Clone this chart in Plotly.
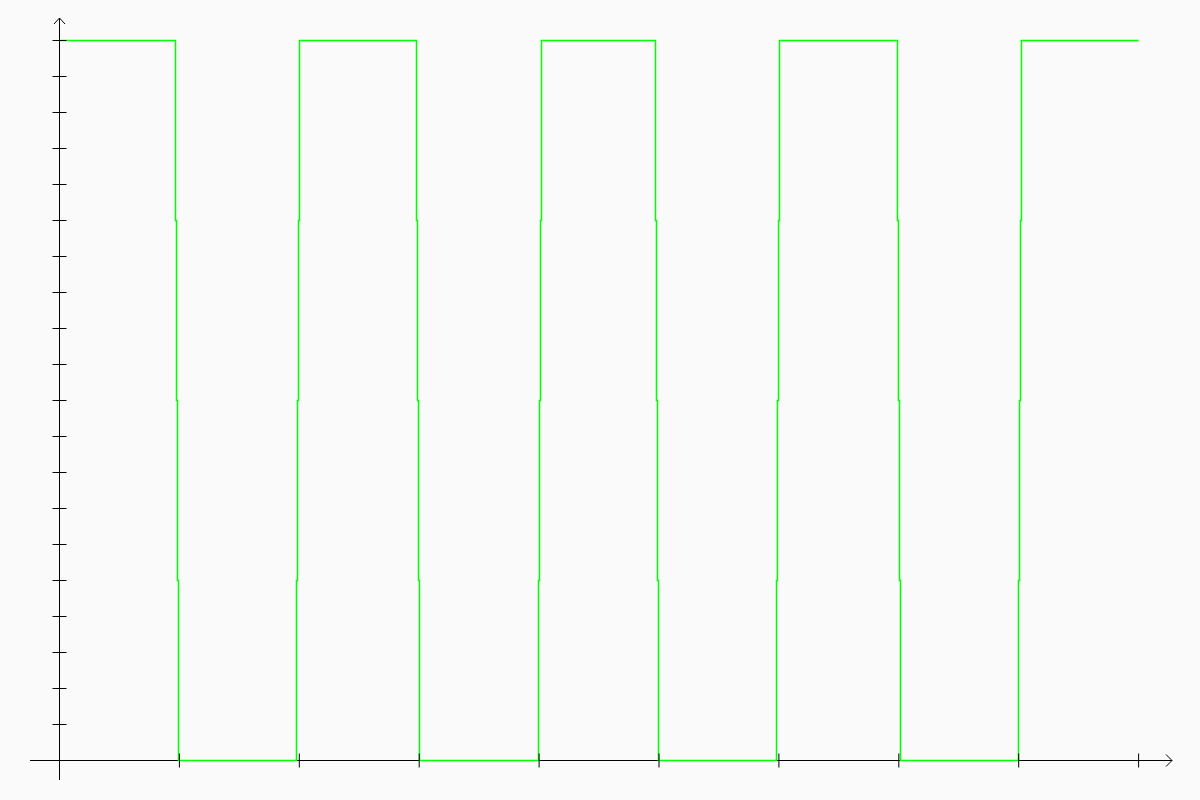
import plotly.graph_objects as go

# --- data ---------------------------------------------------------------
# breakpoints of the stepped square wave (x in axis units, y normalized)
wave_x = [0.0,
          0.9675, 0.9758, 0.9841, 0.9925,
          1.9766, 1.9850, 1.9933, 2.0017,
          2.9775, 2.9858, 2.9942, 3.0025,
          3.9950, 4.0033, 4.0117, 4.0200,
          4.9708, 4.9791, 4.9875, 4.9958,
          5.9800, 5.9880, 5.9970, 6.0050,
          6.9890, 6.9970, 7.0060, 7.0140,
          7.9980, 8.0070, 8.0150, 8.0230,
          9.0]
wave_y = [1.0,
          0.75, 0.5, 0.25, 0.0,
          0.25, 0.5, 0.75, 1.0,
          0.75, 0.5, 0.25, 0.0,
          0.25, 0.5, 0.75, 1.0,
          0.75, 0.5, 0.25, 0.0,
          0.25, 0.5, 0.75, 1.0,
          0.75, 0.5, 0.25, 0.0,
          0.25, 0.5, 0.75, 1.0,
          1.0]

x_ticks = [1, 2, 3, 4, 5, 6, 7, 8, 9]
y_ticks = [round(0.05 * i, 2) for i in range(1, 21)]

# --- layout geometry (pixel mapping) ---
W, H = 1200, 800
X0_PX, X_PER = 59.5, 119.9        # x=0 at px 59.5, 119.9 px per unit
Y0_PX, Y_PER = 760.5, 720.0       # y=0 at px 760.5, 720 px per unit

def ux(px):
    return (px - X0_PX) / X_PER

def uy(py):
    return (Y0_PX - py) / Y_PER

x_range = [ux(0), ux(W)]
y_range = [uy(H), uy(0)]

fig = go.Figure()

fig.add_trace(go.Scatter(
    x=wave_x, y=wave_y, mode="lines",
    line=dict(color="#00ff00", width=1.5, shape="hv"),
    hoverinfo="skip", showlegend=False))

# tick marks crossing the axes
fig.add_trace(go.Scatter(
    x=[0] * len(y_ticks), y=y_ticks, mode="markers",
    marker=dict(symbol="line-ew", size=10, line=dict(color="black", width=1)),
    hoverinfo="skip", showlegend=False))
fig.add_trace(go.Scatter(
    x=x_ticks, y=[0] * len(x_ticks), mode="markers",
    marker=dict(symbol="line-ns", size=10, line=dict(color="black", width=1)),
    hoverinfo="skip", showlegend=False))

axis_line = dict(color="black", width=1)
shapes = [
    # y axis
    dict(type="line", x0=0, x1=0, y0=uy(780), y1=uy(18), line=axis_line, layer="below"),
    # x axis
    dict(type="line", x0=ux(30), x1=ux(1172), y0=0, y1=0, line=axis_line, layer="below"),
    # arrow heads
    dict(type="path", line=axis_line,
         path=f"M {ux(54)},{uy(24)} L 0,{uy(18)} L {ux(65)},{uy(24)}"),
    dict(type="path", line=axis_line,
         path=f"M {ux(1166)},{uy(754.5)} L {ux(1172)},0 L {ux(1166)},{uy(766.5)}"),
]

fig.update_layout(
    width=W, height=H,
    margin=dict(l=0, r=0, t=0, b=0),
    paper_bgcolor="#fafafa", plot_bgcolor="#fafafa",
    shapes=shapes,
    xaxis=dict(range=x_range, visible=False, fixedrange=True),
    yaxis=dict(range=y_range, visible=False, fixedrange=True),
    showlegend=False,
)

fig.write_html("out.html", config={"displayModeBar": False})
